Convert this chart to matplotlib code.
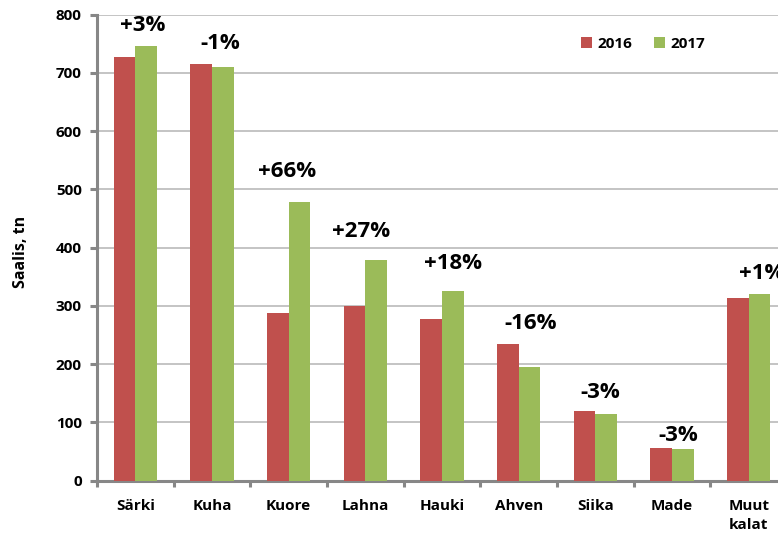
import matplotlib
matplotlib.use("Agg")
import matplotlib.pyplot as plt
import numpy as np
from matplotlib.patches import Patch

plt.rcParams['font.family'] = ['Open Sans', 'DejaVu Sans']

categories = ["Särki", "Kuha", "Kuore", "Lahna", "Hauki", "Ahven", "Siika", "Made", "Muut\nkalat"]
catch_2016 = [727, 715, 287, 299, 277, 234, 119, 56, 314]
catch_2017 = [746, 710, 478, 378, 326, 195, 115, 54, 320]
change_labels = ["+3%", "-1%", "+66%", "+27%", "+18%", "-16%", "-3%", "-3%", "+1%"]
label_y = [782, 751, 530, 427, 373, 269, 152, 78, 356]
label_dx = [0.10, 0.11, -0.02, -0.05, 0.15, 0.15, 0.07, 0.08, 0.17]
series_names = ["2016", "2017"]
yticks = [0, 100, 200, 300, 400, 500, 600, 700, 800]

red = "#C0504D"
green = "#9BBB59"
spine_c = "#878787"

fig = plt.figure(figsize=(7.78, 5.35), dpi=100)
ax = fig.add_axes([97 / 778, 54.4 / 535, 690 / 778, 466 / 535])

x = np.arange(len(categories))
w = 0.283
ax.bar(x - w / 2, catch_2016, width=w, color=red, zorder=3)
ax.bar(x + w / 2, catch_2017, width=w, color=green, zorder=3)

for i, (t, yy) in enumerate(zip(change_labels, label_y)):
    ax.text(i + label_dx[i], yy, t, ha="center", va="center", fontsize=16,
            fontweight="bold", color="black", zorder=4, clip_on=False)

ax.set_xlim(-0.5, len(categories) - 0.5)
ax.set_ylim(0, 800)
ax.set_yticks(yticks)
ax.set_yticklabels([str(v) for v in yticks], fontsize=11, fontweight="bold")
ax.set_xticks(x)
ax.set_xticklabels(categories, fontsize=11, fontweight="bold", linespacing=1.5)
ax.set_xticks(np.arange(-0.5, len(categories), 1.0), minor=True)
ax.tick_params(axis="x", which="major", length=0, pad=13)
ax.tick_params(axis="x", which="minor", length=4, width=2.2, color=spine_c, direction="out")
ax.tick_params(axis="y", which="major", length=5, width=2.2, color=spine_c, pad=6)

ax.grid(axis="y", color="#BABABA", linewidth=1.2, zorder=0)
ax.set_axisbelow(True)
for s in ["top", "right"]:
    ax.spines[s].set_visible(False)
for s in ["left", "bottom"]:
    ax.spines[s].set_color(spine_c)
    ax.spines[s].set_linewidth(2.2)

ax.set_ylabel("Saalis, tn", fontsize=11.5, fontweight="bold")
ax.yaxis.set_label_coords(-68 / 690, 0.49)

handles = [Patch(facecolor=red, label=series_names[0]),
           Patch(facecolor=green, label=series_names[1])]
leg = ax.legend(handles=handles, ncol=2, frameon=False, loc="center",
                bbox_to_anchor=(643 / 690 - 97 / 690, (480.6 - 44) / 466),
                prop={"weight": "bold", "size": 11},
                handlelength=0.75, handleheight=0.75, handletextpad=0.35,
                columnspacing=1.4)

fig.savefig("out.png", dpi=100)
